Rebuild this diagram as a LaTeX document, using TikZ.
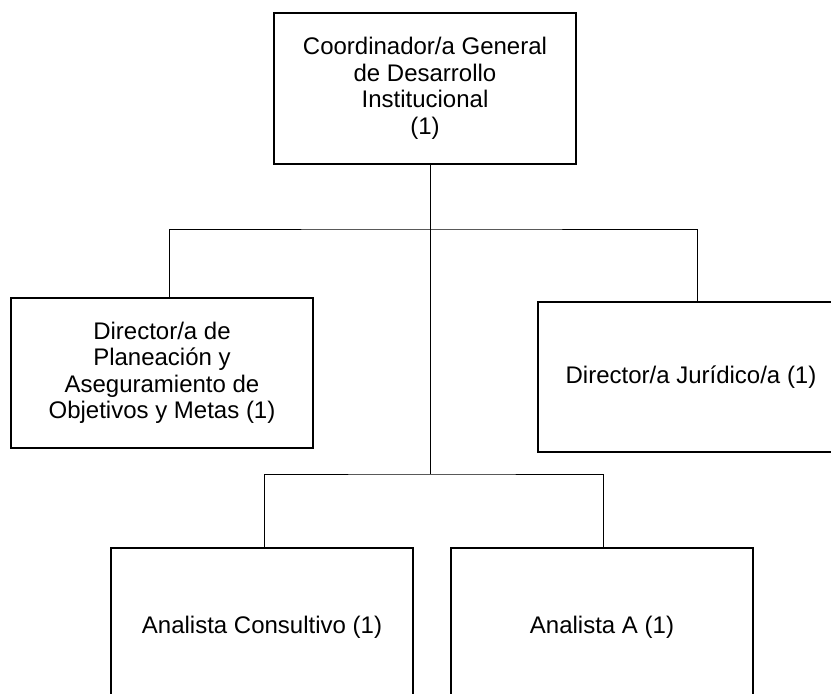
\documentclass[tikz,border=0pt]{standalone}
\usepackage{fontspec}
\setmainfont{Liberation Sans}
\begin{document}
\begin{tikzpicture}[x=1pt,y=-1pt,
  box/.style={draw=black,line width=1.6pt,fill=white,align=center,inner sep=0pt,
    font=\fontsize{24}{26.5}\selectfont},
  link/.style={draw=black,line width=0.9pt}]
\useasboundingbox[fill=white] (0,0) rectangle (831,694);
\clip (0,0) rectangle (831,694);
\node[box,minimum width=302pt,minimum height=151pt] (top) at (425,88.5)
  {Coordinador/a General\\de Desarrollo\\Institucional\\(1)};
\node[box,minimum width=302pt,minimum height=150pt] (left) at (162,373)
  {Director/a de\\Planeación y\\Aseguramiento de\\Objetivos y Metas (1)};
\node[box,minimum width=306pt,minimum height=150pt] (right) at (691,377)
  {Director/a Jurídico/a (1)};
\node[box,minimum width=302pt,minimum height=158pt] (bl) at (262,627)
  {Analista Consultivo (1)};
\node[box,minimum width=302pt,minimum height=158pt] (br) at (602,627)
  {Analista A (1)};
\coordinate (j1) at (430,229);
\coordinate (j2) at (430,474);
\draw[link] ([xshift=5pt]top.south) -- (j2);
\draw[link] ([xshift=7pt]left.north) |- (j1) -| ([xshift=6pt]right.north);
\draw[link] ([xshift=2pt]bl.north) |- (j2) -| ([xshift=1pt]br.north);
\end{tikzpicture}
\end{document}
